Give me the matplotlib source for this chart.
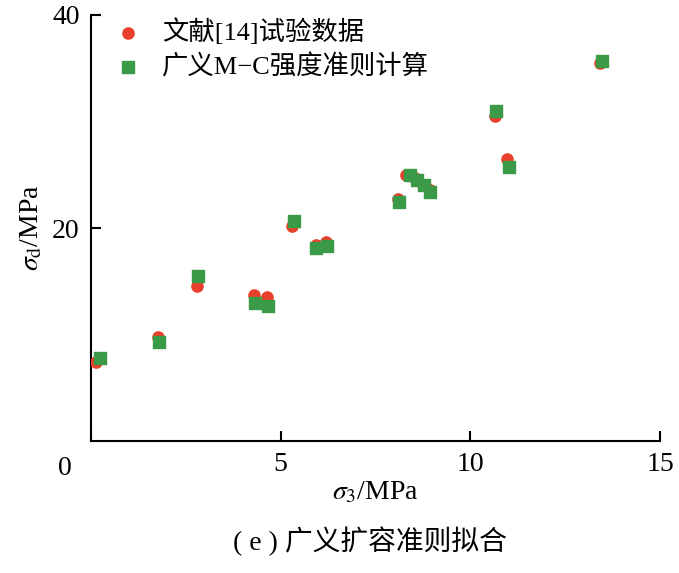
import matplotlib.pyplot as plt

plt.rcParams['font.family'] = ['Liberation Serif', 'Noto Sans CJK SC']
plt.rcParams['mathtext.fontset'] = 'stix'

sigma3_test = [0.12, 1.77, 2.8, 4.3, 4.63, 5.31, 5.93, 6.2, 8.1, 8.3, 8.54, 8.76, 8.93, 10.66, 10.98, 13.42]
sigmad_test = [7.4, 9.8, 14.6, 13.7, 13.5, 20.2, 18.4, 18.7, 22.7, 25.0, 24.7, 24.0, 23.6, 30.5, 26.5, 35.5]
sigma3_calc = [0.23, 1.79, 2.82, 4.32, 4.66, 5.36, 5.93, 6.22, 8.12, 8.4, 8.6, 8.78, 8.93, 10.69, 11.03, 13.48]
sigmad_calc = [7.8, 9.3, 15.5, 13.0, 12.7, 20.7, 18.1, 18.3, 22.4, 25.0, 24.5, 24.0, 23.4, 31.0, 25.7, 35.7]
xticks = [0, 5, 10, 15]
yticks = [20, 40]

fig = plt.figure(figsize=(6.79, 5.73), dpi=100)
ax = fig.add_axes([0.134, 0.230, 0.838, 0.744])
ax.scatter(sigma3_test, sigmad_test, marker='o', s=65, color='#e8402a', label='文献[14]试验数据', zorder=3)
ax.scatter(sigma3_calc, sigmad_calc, marker='s', s=70, color='#3a9a48', label='广义M−C强度准则计算', zorder=4)

ax.set_xlim(0, 15)
ax.set_ylim(0, 40)
ax.set_xticks(xticks)
ax.set_xticklabels(['', '5', '10', '15'])
ax.set_yticks(yticks)
ax.tick_params(direction='in', labelsize=20, length=7, width=1.5, pad=8)
ax.text(-0.7, -1.4, '0', fontsize=20, ha='center', va='top')
for s in ['top', 'right']:
    ax.spines[s].set_visible(False)
for s in ['left', 'bottom']:
    ax.spines[s].set_linewidth(1.5)

ax.set_xlabel(r'$\sigma_3$/MPa', fontsize=20, labelpad=2)
ax.set_ylabel(r'$\sigma_{\rm d}$/MPa', fontsize=20, labelpad=6)
ax.legend(loc='upper left', bbox_to_anchor=(-0.01, 1.03), fontsize=19, frameon=False,
          handletextpad=0.3, labelspacing=0.35, borderaxespad=0.2)
fig.text(0.545, 0.04, '( e ) 广义扩容准则拟合', fontsize=20, ha='center')
fig.savefig('out.png', dpi=100)
